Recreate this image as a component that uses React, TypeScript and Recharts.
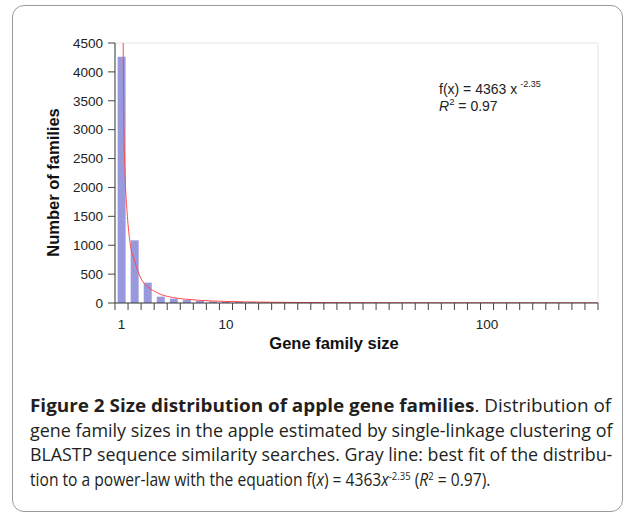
import React, { useLayoutEffect, useRef, useState } from 'react';
import { ComposedChart, Bar, Line, XAxis, YAxis, ReferenceLine } from 'recharts';

// Gene family size bins, in axis order (one bar per bin)
const sizeBins = [
  '1', '2', '3', '4', '5', '6', '7', '8', '9', '10',
  '11', '12', '13', '14', '15', '16', '17', '18', '19', '20',
  '21', '22', '23', '24', '25', '26', '27', '28', '29', '30',
  '31', '32', '33', '34', '35', '36', '37',
];

// Number of gene families in each bin
const familyCounts = [
  4260, 1085, 352, 110, 75, 52, 36, 26, 20, 15,
  12, 10, 8, 7, 6, 5, 5, 4, 4, 3,
  3, 3, 2, 2, 2, 2, 2, 1, 1, 1,
  1, 1, 1, 1, 1, 1, 1,
];

// Bins that carry a size label on the horizontal axis
const sizeTickLabels: Record<string, string> = { '1': '1', '9': '10', '29': '100' };

// Power-law trend curve, sampled along the bin axis (bin units, families)
const fitBinPos = [0.62, 0.68, 0.77, 0.95, 1.15, 1.5, 2.0, 2.5, 3.0, 3.5, 4.5, 5.5, 6.5, 8.5, 11.5, 16.5, 24.5, 37];
const fitFamilies = [4700, 3000, 2240, 1500, 1050, 730, 420, 280, 205, 150, 92, 64, 46, 27, 14, 6, 2, 1];

const yTicks = [0, 500, 1000, 1500, 2000, 2500, 3000, 3500, 4000, 4500];

const barData = sizeBins.map((bin, i) => ({ bin, count: familyCounts[i] }));
const fitData = fitBinPos.map((x, i) => ({ x, y: fitFamilies[i] }));
const binEdges = Array.from({ length: sizeBins.length + 1 }, (_, i) => i);

const CHART_W = 634;
const CHART_H = 370;
const MARGIN = { top: 43, right: 36, bottom: 37, left: 0 };
const Y_AXIS_W = 115;
const PLOT_W = CHART_W - MARGIN.left - MARGIN.right - Y_AXIS_W;
const BAND = PLOT_W / sizeBins.length;

const AXIS_FONT = 'Liberation Sans, Arial, Helvetica, sans-serif';
const CAPTION_FONT = '"Open Sans", "Noto Sans", sans-serif';

// caption line baselines and the width each line is set to
const CAPTION_X = 30;
const captionBaselines = [411.5, 436.5, 461, 485.5];
const captionWidths = [581, 582, 582, 460];

function SizeTick(props: any) {
  const { x, y, payload } = props;
  const bin = sizeBins[payload.value];
  const text = bin !== undefined ? sizeTickLabels[bin] : undefined;
  if (!text) return null;
  return (
    <text
      x={x + BAND / 2}
      y={y}
      dy="0.71em"
      textAnchor="middle"
      fontFamily={AXIS_FONT}
      fontSize={13.5}
      fill="#222"
    >
      {text}
    </text>
  );
}

function Caption() {
  const refs = useRef<(SVGTextElement | null)[]>([]);
  const [scales, setScales] = useState<number[]>([0.86, 0.86, 0.86, 0.86]);

  useLayoutEffect(() => {
    const next = refs.current.map((el, i) => {
      if (!el) return 0.86;
      const w = el.getComputedTextLength();
      return w > 0 ? captionWidths[i] / w : 0.86;
    });
    setScales(next);
  }, []);

  const lines: React.ReactNode[] = [
    <>
      <tspan fontWeight="bold">Figure 2 Size distribution of apple gene families</tspan>
      <tspan>. Distribution of</tspan>
    </>,
    <>gene family sizes in the apple estimated by single-linkage clustering of</>,
    <>BLASTP sequence similarity searches. Gray line: best fit of the distribu-</>,
    <>
      <tspan>tion to a power-law with the equation f(</tspan>
      <tspan fontStyle="italic">x</tspan>
      <tspan>) = 4363</tspan>
      <tspan fontStyle="italic">x</tspan>
      <tspan dy={-6} fontSize={11}>-2.35</tspan>
      <tspan dy={6}> (</tspan>
      <tspan fontStyle="italic">R</tspan>
      <tspan dy={-6} fontSize={11}>2</tspan>
      <tspan dy={6}> = 0.97).</tspan>
    </>,
  ];

  return (
    <g fontFamily={CAPTION_FONT} fontSize={18} fill="#231f20">
      {lines.map((content, i) => (
        <text
          key={i}
          ref={(el) => {
            refs.current[i] = el;
          }}
          x={0}
          y={0}
          transform={`translate(${CAPTION_X},${captionBaselines[i]}) scale(${scales[i]},1)`}
        >
          {content}
        </text>
      ))}
    </g>
  );
}

export default function App() {
  return (
    <div style={{ position: 'absolute', left: 0, top: 0, width: 634, height: 512, background: '#fff', overflow: 'hidden' }}>
      <div
        style={{
          position: 'absolute',
          left: 12,
          top: 5,
          width: 609,
          height: 505,
          border: '1px solid #9a9a9a',
          borderRadius: 12,
        }}
      />
      <div style={{ position: 'absolute', left: 0, top: 0 }}>
        <ComposedChart
          width={CHART_W}
          height={CHART_H}
          data={barData}
          margin={MARGIN}
          barCategoryGap="20%"
        >
          <XAxis
            xAxisId="size"
            type="number"
            dataKey="x"
            domain={[0, sizeBins.length]}
            ticks={binEdges}
            interval={0}
            allowDataOverflow
            height={30}
            tickSize={7}
            tickMargin={9}
            axisLine={{ stroke: '#333', strokeWidth: 1 }}
            tickLine={{ stroke: '#444', strokeWidth: 1 }}
            tick={<SizeTick />}
          />
          <XAxis xAxisId="bins" dataKey="bin" type="category" hide height={0} />
          <YAxis
            type="number"
            domain={[0, 4500]}
            ticks={yTicks}
            interval={0}
            allowDataOverflow
            width={Y_AXIS_W}
            tickSize={7}
            tickMargin={5}
            axisLine={{ stroke: '#333', strokeWidth: 1 }}
            tickLine={{ stroke: '#444', strokeWidth: 1 }}
            tick={{ fontFamily: AXIS_FONT, fontSize: 13.5, fill: '#222' }}
          />
          <ReferenceLine xAxisId="size" y={4500} stroke="#e4e4e4" strokeWidth={1} />
          <ReferenceLine xAxisId="size" x={sizeBins.length} stroke="#e4e4e4" strokeWidth={1} />
          <Bar xAxisId="bins" dataKey="count" fill="#9999dd" isAnimationActive={false} />
          <Line
            xAxisId="size"
            data={fitData}
            dataKey="y"
            type="monotone"
            stroke="#ff4848"
            strokeWidth={1}
            dot={false}
            activeDot={false}
            isAnimationActive={false}
          />
        </ComposedChart>
      </div>
      <svg
        width={634}
        height={512}
        style={{ position: 'absolute', left: 0, top: 0, pointerEvents: 'none' }}
      >
        {/* axis titles */}
        <text
          transform="translate(58.5,182.5) rotate(-90)"
          textAnchor="middle"
          fontFamily={AXIS_FONT}
          fontWeight="bold"
          fontSize={16.5}
          fill="#111"
        >
          Number of families
        </text>
        <text
          x={334}
          y={349}
          textAnchor="middle"
          fontFamily={AXIS_FONT}
          fontWeight="bold"
          fontSize={16.5}
          fill="#111"
        >
          Gene family size
        </text>

        {/* fitted equation */}
        <text x={439} y={94} fontFamily={AXIS_FONT} fontSize={14} fill="#222">
          f(x) = 4363 x
          <tspan dx={3} dy={-7} fontSize={9}>-2.35</tspan>
        </text>
        <text x={439} y={111} fontFamily={AXIS_FONT} fontSize={14} fill="#222">
          <tspan fontStyle="italic">R</tspan>
          <tspan dy={-6} fontSize={9.5}>2</tspan>
          <tspan dy={6}> = 0.97</tspan>
        </text>

        <Caption />
      </svg>
    </div>
  );
}
